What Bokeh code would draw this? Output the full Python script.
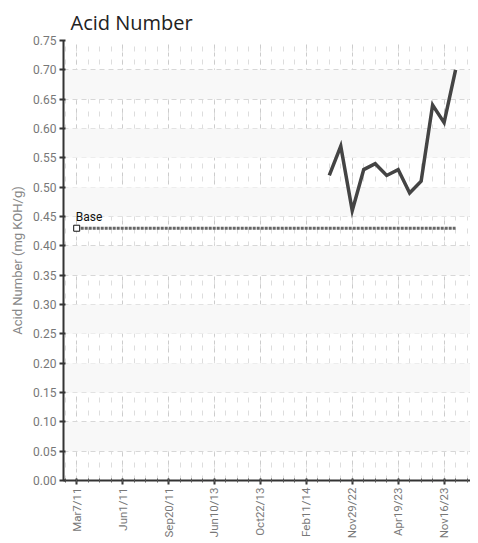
import math
from bokeh.plotting import figure
from bokeh.models import FixedTicker, Range1d, BoxAnnotation, Label, CustomJSTickFormatter
from bokeh.embed import file_html
from bokeh.resources import INLINE

# ---- data ----
tick_positions = [0, 4, 8, 12, 16, 20, 24, 28, 32]
tick_labels = ["Mar7/11", "Jun1/11", "Sep20/11", "Jun10/13", "Oct22/13",
               "Feb11/14", "Nov29/22", "Apr19/23", "Nov16/23"]
series_x = [22, 23, 24, 25, 26, 27, 28, 29, 30, 31, 32, 33]
series_y = [0.52, 0.57, 0.46, 0.53, 0.54, 0.52, 0.53, 0.49, 0.51, 0.64, 0.61, 0.70]
base_value = 0.43
base_x = [0, 33]
y_ticks = [0.00, 0.05, 0.10, 0.15, 0.20, 0.25, 0.30, 0.35, 0.40, 0.45,
           0.50, 0.55, 0.60, 0.65, 0.70, 0.75]

TICK_FONT = "Roboto"

p = figure(width=470, height=541, output_backend="svg", toolbar_location=None,
           x_range=Range1d(-1.15, 34.3), y_range=Range1d(0, 0.75),
           min_border_left=63, min_border_right=0, min_border_top=40,
           min_border_bottom=58, title="Acid Number")
p.outline_line_color = None
p.background_fill_color = "white"

p.title.text_font = "Open Sans"
p.title.text_font_size = "20px"
p.title.text_font_style = "normal"
p.title.text_color = "#222222"
p.title.offset = 7
p.title.standoff = 9

# alternate bands
for lo, hi in zip(y_ticks[1::2], y_ticks[2::2]):
    p.add_layout(BoxAnnotation(bottom=lo, top=hi, fill_color="#f8f8f8",
                               fill_alpha=1.0, line_color=None, level="underlay"))

# axes
p.xaxis.ticker = FixedTicker(ticks=tick_positions, minor_ticks=list(range(-1, 35)))
p.xaxis.major_label_overrides = {t: l for t, l in zip(tick_positions, tick_labels)}
p.xaxis.major_label_orientation = math.pi / 2
p.yaxis.ticker = FixedTicker(ticks=y_ticks)
p.yaxis.formatter = CustomJSTickFormatter(code="return tick.toFixed(2);")

for ax in (p.xaxis[0], p.yaxis[0]):
    ax.axis_line_color = "#333333"
    ax.axis_line_width = 2
    ax.major_tick_line_color = "#333333"
    ax.major_tick_line_width = 2
    ax.major_tick_in = 2
    ax.major_tick_out = 4
    ax.major_label_text_font = TICK_FONT
    ax.major_label_text_color = "#777777"
    ax.major_label_standoff = 3
p.yaxis.major_label_text_font_size = "12px"
p.xaxis.major_label_text_font_size = "11.5px"
p.xaxis.minor_tick_line_color = "#555555"
p.xaxis.minor_tick_in = 2
p.xaxis.minor_tick_out = 2
p.yaxis.minor_tick_line_color = None

p.yaxis.axis_label = "Acid Number (mg KOH/g)"
p.yaxis.axis_label_text_font = TICK_FONT
p.yaxis.axis_label_text_font_size = "13px"
p.yaxis.axis_label_text_font_style = "normal"
p.yaxis.axis_label_text_color = "#888888"
p.yaxis.axis_label_standoff = 5

# grids
p.xgrid.grid_line_color = "#cccccc"
p.xgrid.grid_line_dash = "4 4"
p.xgrid.minor_grid_line_color = "#dddddd"
p.xgrid.minor_grid_line_dash = "5 8"
p.ygrid.grid_line_color = "#cccccc"
p.ygrid.grid_line_dash = "5 4"

# base line
p.line(base_x, [base_value] * len(base_x), line_color="#666666", line_width=3,
       line_dash="3 1")
p.scatter([base_x[0]], [base_value], marker="square", size=6,
          fill_color="white", line_color="#111111", line_width=1)
p.add_layout(Label(x=base_x[0], y=base_value, text="Base", x_offset=-1, y_offset=4,
                   text_font=TICK_FONT, text_font_size="12px", text_color="#111111"))

# series
p.line(series_x, series_y, line_color="#444444", line_width=3.5, line_join="miter")

open("out.html", "w").write(file_html(p, INLINE))
